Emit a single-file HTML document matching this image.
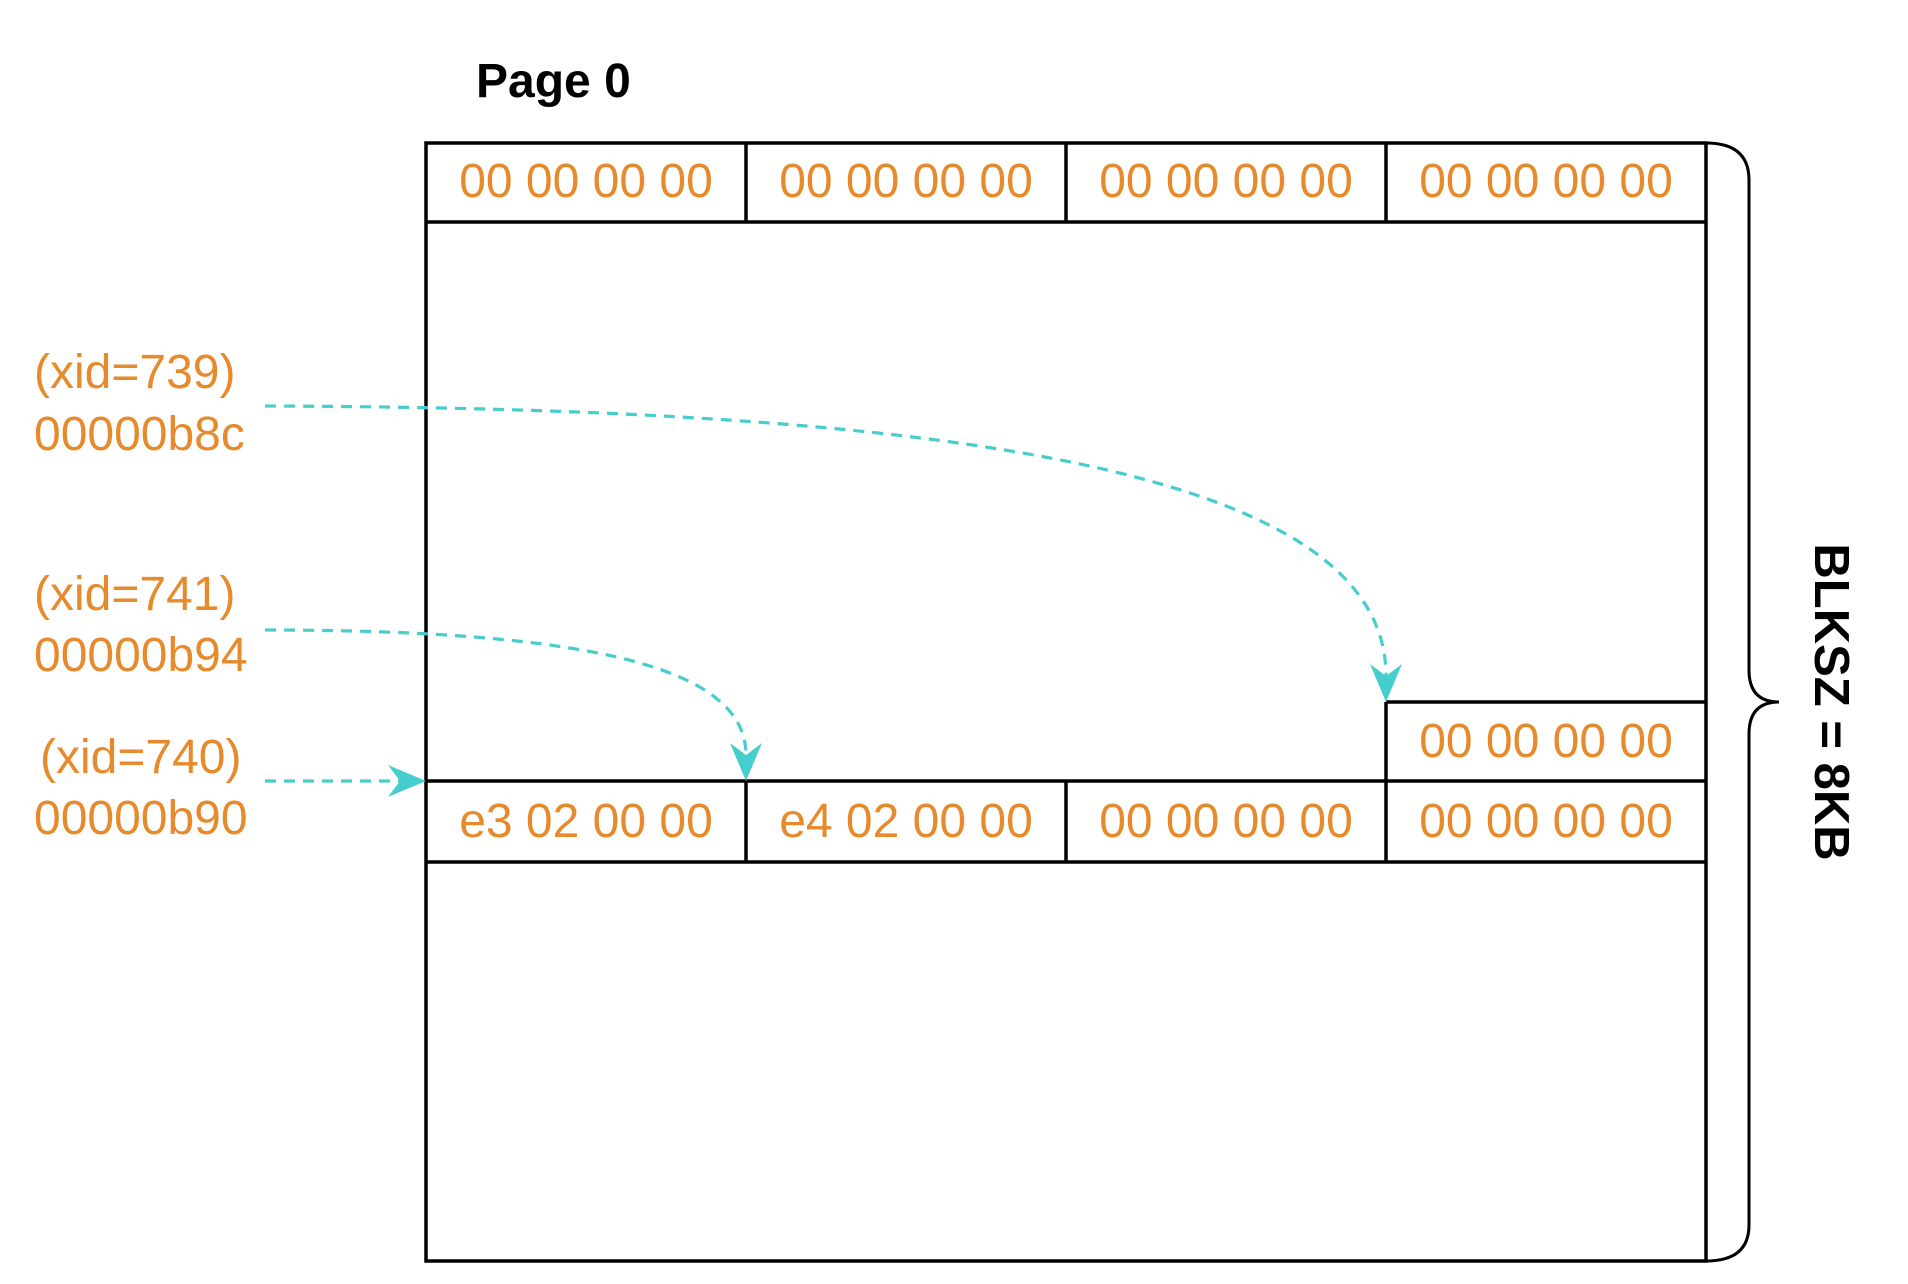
<!DOCTYPE html>
<html><head><meta charset="utf-8"><style>
html,body{margin:0;padding:0;background:#fff;}
svg{display:block;}
text{font-family:"Liberation Sans",Arial,sans-serif;}
.hex{fill:#E68A2B;font-size:48px;text-anchor:middle;}
.lbl{fill:#E68A2B;font-size:48px;}
</style></head><body>
<svg width="1908" height="1284" viewBox="0 0 1908 1284">
<text x="476" y="97" font-size="48" font-weight="bold" fill="#000">Page 0</text>
<g fill="none" stroke="#000" stroke-width="3.5">
<rect x="426" y="143" width="1280" height="1118"/>
<line x1="426" y1="222" x2="1706" y2="222"/>
<line x1="746" y1="143" x2="746" y2="222"/>
<line x1="1066" y1="143" x2="1066" y2="222"/>
<line x1="1386" y1="143" x2="1386" y2="222"/>
<line x1="1386" y1="702" x2="1706" y2="702"/>
<line x1="1386" y1="702" x2="1386" y2="862"/>
<line x1="426" y1="781" x2="1706" y2="781"/>
<line x1="426" y1="862" x2="1706" y2="862"/>
<line x1="746" y1="781" x2="746" y2="862"/>
<line x1="1066" y1="781" x2="1066" y2="862"/>
</g>
<g>
<text class="hex" x="586" y="197">00 00 00 00</text>
<text class="hex" x="906" y="197">00 00 00 00</text>
<text class="hex" x="1226" y="197">00 00 00 00</text>
<text class="hex" x="1546" y="197">00 00 00 00</text>
</g>
<text class="hex" x="1546" y="757">00 00 00 00</text>
<g>
<text class="hex" x="586" y="837">e3 02 00 00</text>
<text class="hex" x="906" y="837">e4 02 00 00</text>
<text class="hex" x="1226" y="837">00 00 00 00</text>
<text class="hex" x="1546" y="837">00 00 00 00</text>
</g>
<path d="M1706 143 Q1749 143 1749 180 L1749 670 Q1749 702 1779 702 Q1749 702 1749 734 L1749 1225 Q1749 1261 1706 1261" fill="none" stroke="#000" stroke-width="3"/>
<text x="1832" y="702" font-size="49" font-weight="bold" text-anchor="middle" fill="#000" transform="rotate(90 1832 702) translate(0 17)">BLKSZ = 8KB</text>
<g>
<text class="lbl" x="34" y="388">(xid=739)</text>
<text class="lbl" x="34" y="450">00000b8c</text>
<text class="lbl" x="34" y="610">(xid=741)</text>
<text class="lbl" x="34" y="671">00000b94</text>
<text class="lbl" x="40" y="773">(xid=740)</text>
<text class="lbl" x="34" y="834">00000b90</text>
</g>
<g fill="none" stroke="#46CDCD" stroke-width="3.2" stroke-dasharray="11 8">
<path d="M265 406 C950 408 1386 470 1386 676"/>
<path d="M265 630 C600 630 746 670 746 755"/>
<path d="M265 791 L400 791" transform="translate(0 -10)"/>
</g>
<g fill="#46CDCD">
<path d="M1386 702 L1370 664 L1386 676 L1402 664 Z"/>
<path d="M746 781 L730 743 L746 755 L762 743 Z"/>
<path d="M426 781 L388 765 L400 781 L388 797 Z"/>
</g>
</svg>
</body></html>
